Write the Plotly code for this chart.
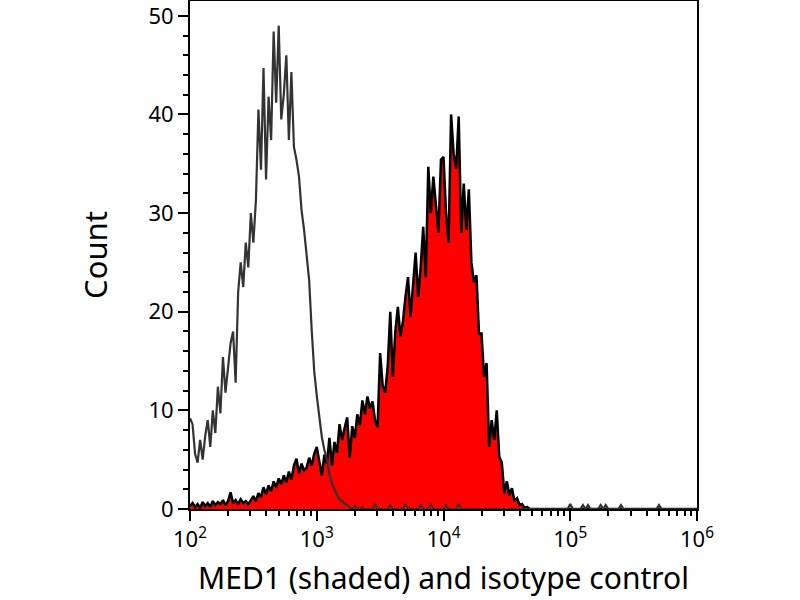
import numpy as np
import plotly.graph_objects as go

# histogram channels: log10(intensity) from 2 to 6 in steps of 0.02 decades
channel_start = 2.0
channel_step = 0.02
n_channels = 201

# MED1 stained cells (shaded), counts per channel
med1_counts = [
    0.3, 0.6, 0.2, 0.5, 0.1, 0.7, 0.3, 0.6, 0.2, 0.8,
    0.4, 0.7, 0.5, 0.9, 0.4, 0.8, 1.7, 0.6, 0.9, 0.5,
    1.0, 0.6, 0.8, 0.5, 0.9, 1.3, 0.8, 1.6, 1.2, 2.2,
    1.5, 2.4, 1.8, 2.8, 2.2, 3.1, 2.5, 3.4, 2.7, 3.8,
    3.0, 4.4, 5.1, 3.6, 4.6, 3.9, 4.2, 5.2, 4.4, 5.6,
    6.3, 4.8, 3.4, 5.5, 4.6, 7.2, 4.4, 6.8, 5.7, 8.6,
    7.0, 8.2, 9.3, 5.2, 8.4, 7.2, 9.6, 8.5, 11.0, 9.6,
    11.4, 10.2, 10.9, 9.0, 8.3, 15.8, 12.5, 11.8, 14.5, 20.0,
    13.4, 18.0, 20.5, 17.5, 19.0, 21.5, 23.5, 19.5, 22.5, 26.0,
    21.5, 24.5, 28.6, 23.5, 34.7, 30.0, 33.7, 31.0, 28.0, 35.4,
    35.7, 30.0, 27.0, 40.0, 36.0, 34.5, 39.8, 28.0, 33.0, 28.3,
    32.4, 25.0, 23.0, 23.7, 17.8, 17.8, 13.4, 14.8, 6.3, 9.0,
    7.0, 10.0, 5.3, 4.7, 1.6, 2.8, 1.4, 2.1, 0.8, 1.1,
    0.4, 0.5, 0.1, 0.2,
]
med1_counts = med1_counts + [0.0] * (n_channels - len(med1_counts))

# isotype control (outline only), counts per channel
isotype_counts = [
    9.2, 8.6, 5.6, 4.7, 7.0, 5.0, 7.4, 9.0, 6.3, 10.0,
    7.7, 12.4, 9.7, 15.4, 11.8, 14.0, 16.8, 18.0, 12.8, 22.0,
    25.0, 22.5, 27.0, 24.5, 30.0, 27.0, 31.3, 40.5, 34.4, 44.7,
    33.4, 41.8, 37.4, 48.4, 41.2, 49.0, 39.5, 42.0, 46.0, 37.4,
    44.3, 36.7, 35.4, 33.7, 30.3, 28.3, 25.3, 23.2, 18.2, 14.0,
    11.5, 9.5, 7.3, 6.0, 5.0, 3.5, 2.6, 2.0, 1.4, 1.0,
    0.8, 0.5, 0.4, 0.2, 0.0, 0.3, 0.0, 0.0, 0.2, 0.0,
    0.0, 0.0, 0.0, 0.5, 0.0, 0.0, 0.0, 0.0, 0.0, 0.4,
    0.0, 0.0, 0.0, 0.0, 0.0, 0.5, 0.0, 0.0, 0.0, 0.0,
    0.0, 0.4, 0.0, 0.0, 0.0, 0.5, 0.0, 0.0, 0.0, 0.0,
    0.0, 0.4, 0.0, 0.0, 0.0, 0.0, 0.5, 0.0, 0.0, 0.0,
    0.0, 0.0, 0.0, 0.0, 0.0, 0.0, 0.0, 0.0, 0.0, 0.0,
    0.0, 0.0, 0.0, 0.0, 0.0, 0.0, 0.0, 0.0, 0.0, 0.0,
    0.0, 0.0, 0.0, 0.0, 0.0, 0.0, 0.0, 0.0, 0.0, 0.0,
    0.0, 0.0, 0.0, 0.0, 0.0, 0.0, 0.0, 0.0, 0.0, 0.0,
    0.5, 0.0, 0.0, 0.0, 0.0, 0.4, 0.0, 0.4, 0.0, 0.0,
    0.0, 0.0, 0.4, 0.0, 0.4, 0.0, 0.0, 0.0, 0.0, 0.0,
    0.4, 0.0, 0.0, 0.0, 0.0, 0.0, 0.0, 0.0, 0.0, 0.0,
    0.0, 0.0, 0.0, 0.0, 0.0, 0.4, 0.0, 0.0, 0.0, 0.0,
]
isotype_counts = isotype_counts + [0.0] * (n_channels - len(isotype_counts))

x_tickvals = [1e2, 1e3, 1e4, 1e5, 1e6]
x_ticktext = ["10<sup>2</sup>", "10<sup>3</sup>", "10<sup>4</sup>",
              "10<sup>5</sup>", "10<sup>6</sup>"]
y_tickvals = [0, 10, 20, 30, 40, 50]

channels = 10 ** (channel_start + channel_step * np.arange(n_channels))

font = "Noto Sans"

fig = go.Figure()
fig.add_trace(go.Scatter(
    x=channels, y=med1_counts, mode="lines", fill="tozeroy",
    fillcolor="#ff0000", line=dict(color="black", width=2.5),
    name="MED1",
))
fig.add_trace(go.Scatter(
    x=channels, y=isotype_counts, mode="lines",
    line=dict(color="#333333", width=2.2),
    name="isotype control",
))

fig.update_layout(
    width=800, height=600,
    margin=dict(l=190, r=103, t=1, b=91),
    paper_bgcolor="white", plot_bgcolor="white",
    showlegend=False,
    font=dict(family=font, color="black"),
)
fig.update_xaxes(
    type="log", range=[2, 6], automargin=False, ticklabeloverflow="allow",
    tickvals=x_tickvals, ticktext=x_ticktext,
    ticks="outside", ticklen=10, tickwidth=2, tickcolor="black",
    minor=dict(ticks="outside", ticklen=5, tickwidth=2, tickcolor="black", dtick="D1"),
    showline=True, linecolor="black", linewidth=2, mirror=True,
    showgrid=False, zeroline=False,
    tickfont=dict(size=22),
    title=dict(text="MED1 (shaded) and isotype control", font=dict(size=30), standoff=16),
)
fig.update_yaxes(
    range=[0, 51.5], automargin=False, ticklabeloverflow="allow",
    tickvals=y_tickvals,
    ticks="outside", ticklen=10, tickwidth=2, tickcolor="black",
    minor=dict(ticks="outside", ticklen=5, tickwidth=2, tickcolor="black", dtick=2),
    showline=True, linecolor="black", linewidth=2, mirror=True,
    showgrid=False, zeroline=False,
    tickfont=dict(size=22),
    title=dict(text="Count", font=dict(size=31), standoff=32),
)

# the page has a default 8px body margin; drop it so the figure sits at (0, 0)
fig.write_html(
    "out.html",
    config={"displayModeBar": False},
    post_script="document.body.style.margin='0';",
)
